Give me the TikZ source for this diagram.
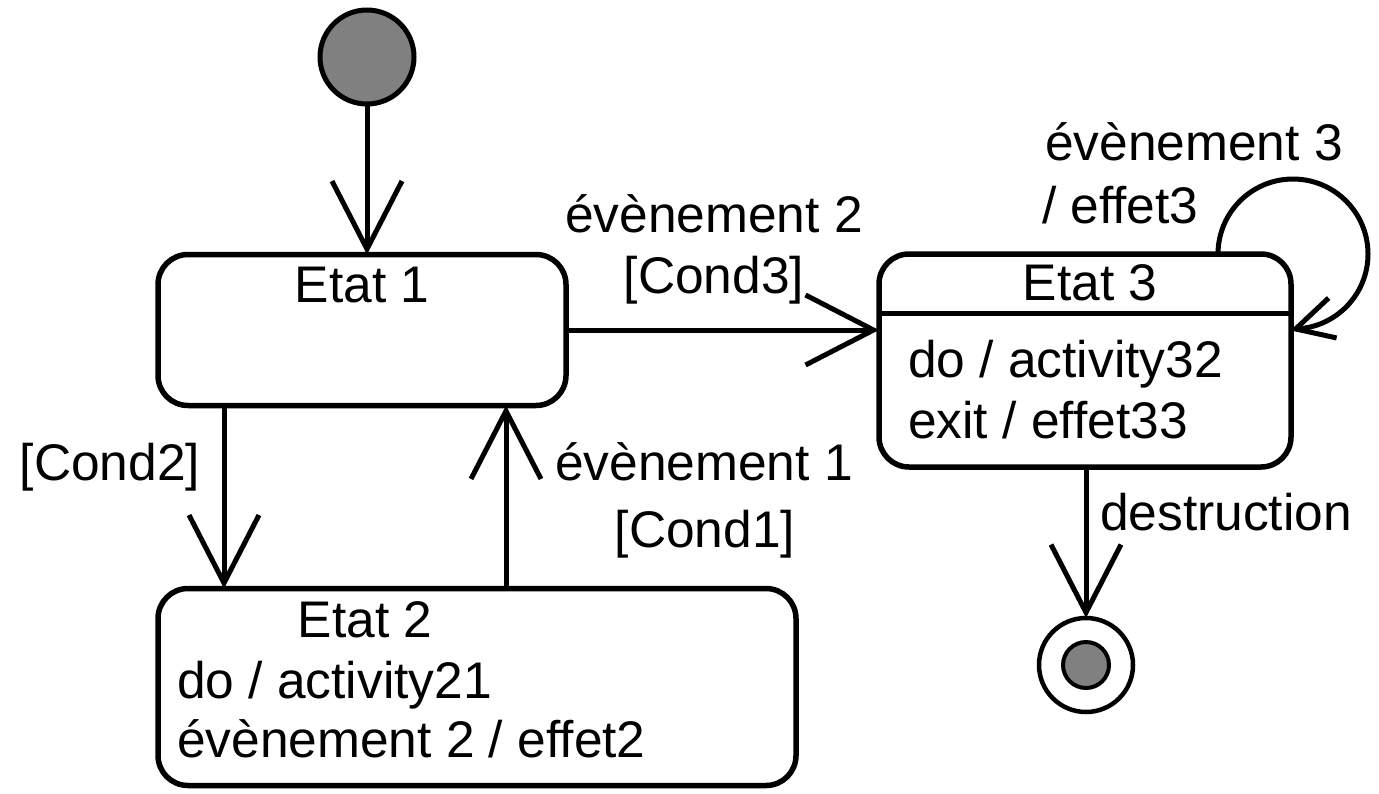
\documentclass[tikz,border=0pt]{standalone}
\usepackage{fontspec}
\setmainfont{Liberation Sans}
\usetikzlibrary{arrows.meta}
\definecolor{pseudo}{HTML}{808080}
\begin{document}
\begin{tikzpicture}[x=1pt,y=-1pt,
  every node/.style={inner sep=0pt,outer sep=0pt,font=\fontsize{51.5}{61}\selectfont},
  statebox/.style={draw,line width=5.5pt,rounded corners=30pt,minimum width=#1},
  pseudo/.style={circle,draw,line width=5pt,fill=pseudo,minimum size=#1},
  trans/.style={line width=5pt,-{Straight Barb[length=68pt,width=70pt]}},
  plain/.style={line width=5pt},
  lbl/.style={anchor=base},
  lblw/.style={anchor=base west}]
\useasboundingbox (0,0) rectangle (1379,793);

% states
\node[statebox=408pt,minimum height=151pt] (e1) at (362,330) {};
\node[statebox=638pt,minimum height=197pt] (e2) at (477,687) {};
\node[statebox=412pt,minimum height=213pt] (e3) at (1085,360.5) {};
\draw[plain] (e3.west |- 0,313) coordinate (sepl) -- (e3.east |- 0,313) coordinate (sepr);

% initial and final pseudo-states
\node[pseudo=94pt] (init) at (367,57) {};
\node[circle,draw,line width=4.5pt,fill=white,minimum size=94pt] (fin) at (1086,665) {};
\node[pseudo=46pt,line width=4pt] (finin) at (fin) {};

% state texts
\node[lbl] (t1) at (362,302) {Etat 1};
\node[lbl] (t2) at (365,637) {Etat 2};
\node[lblw] (t2a) at (177,698) {do / activity21};
\node[lblw] (t2b) at (177,757) {évènement 2 / effet2};
\node[lbl] (t3) at (1090,300) {Etat 3};
\node[lblw] (t3a) at (908,377) {do / activity32};
\node[lblw] (t3b) at (908,438) {exit / effet33};

% transitions
\draw[trans] (init.south) -- (init.south |- e1.north);
\draw[trans] ([xshift=66pt]e1.south west) coordinate (d1) -- (d1 |- e2.north);
\draw[trans] ([xshift=348pt]e1.south west |- e2.north) coordinate (u1) -- (u1 |- e1.south);
\draw[trans] (e1.east) -- (e3.west |- e1.east);
\draw[trans] (e3.south -| fin) -- (fin.north);

% self transition on Etat 3: loop over the top, open head at the right side
\draw[plain] ([xshift=-73pt]e3.north east) arc[start angle=180,end angle=448,radius=75] coordinate (lt);
\draw[plain,line join=miter] ([shift={(33,-31)}]lt) -- (lt) -- ([shift={(41,9)}]lt);

% transition labels
\node[lbl] (l2a) at (714,232) {évènement 2};
\node[lbl] (l2b) at (714,293) {[Cond3]};
\node[lbl] (l1a) at (704,480) {évènement 1};
\node[lbl] (l1b) at (705,547) {[Cond1]};
\node[lbl] (lc2) at (110,480) {[Cond2]};
\node[lblw] (l3a) at (1045,160) {évènement 3};
\node[lblw] (l3b) at (1042,223) {/ effet3};
\node[lblw] (ld) at (1100,530) {destruction};
\end{tikzpicture}
\end{document}
